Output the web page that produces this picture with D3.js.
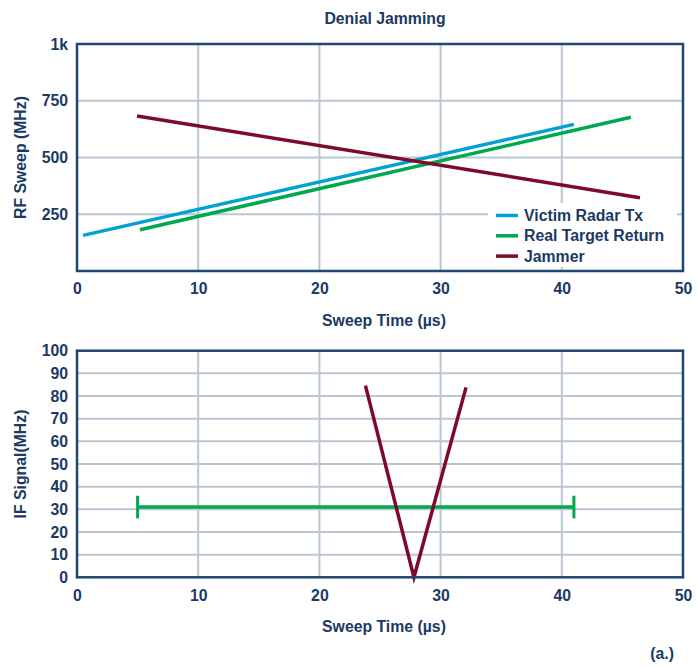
<!DOCTYPE html>
<html>
<head>
<meta charset="utf-8">
<script src="https://cdn.jsdelivr.net/npm/d3@7"></script>
<style>
  html, body { margin: 0; padding: 0; background: #ffffff; }
  svg { display: block; font-family: "Liberation Sans", Arial, sans-serif; }
</style>
</head>
<body>
<svg id="chart"></svg>
<script>
// top panel: RF sweep vs time
const timeTicks = [0, 10, 20, 30, 40, 50];
const rfTicks = [250, 500, 750, 1000];
const rfTickLabels = ["250", "500", "750", "1k"];

const victimTime = [0.5, 41];
const victimFreq = [157, 646];
const targetTime = [5.2, 45.7];
const targetFreq = [182, 677];
const jammerTime = [4.95, 46.45];
const jammerFreq = [683, 323];

const legendNames = ["Victim Radar Tx", "Real Target Return", "Jammer"];

// bottom panel: IF signal vs time
const ifTicks = [0, 10, 20, 30, 40, 50, 60, 70, 80, 90, 100];
const bandTime = [5, 41];
const bandValue = [31, 31];
const bandCapRange = [26, 36];
const jammerIfTime = [23.8, 27.8, 32.1];
const jammerIfValue = [84.6, 0, 83.8];

const colors = {
  text: "#1a3a64",
  frame: "#1f476f",
  grid: "#bac6d3",
  victim: "#00a2d4",
  target: "#00a84f",
  jammer: "#7d0a2c",
};

const width = 697;
const height = 667;
const fontSize = "15.8px";

const svg = d3.select("#chart").attr("width", width).attr("height", height);

const x = d3.scaleLinear().domain([0, 50]).range([77, 683]);
const yTop = d3.scaleLinear().domain([0, 1000]).range([271, 44]);
const yBot = d3.scaleLinear().domain([0, 100]).range([577.3, 350.7]);

function pairs(xs, ys) {
  return xs.map(function (v, i) {
    return [v, ys[i]];
  });
}

function drawPanel(yScale, yTicks, yLabels, gridY) {
  const [y0, y1] = yScale.range();

  // grid
  svg.append("g")
    .selectAll("line")
    .data(timeTicks.slice(1, -1))
    .enter()
    .append("line")
    .attr("x1", function (d) { return x(d); })
    .attr("x2", function (d) { return x(d); })
    .attr("y1", y1)
    .attr("y2", y0)
    .attr("stroke", colors.grid)
    .attr("stroke-width", 2);

  svg.append("g")
    .selectAll("line")
    .data(gridY)
    .enter()
    .append("line")
    .attr("x1", x(0))
    .attr("x2", x(50))
    .attr("y1", function (d) { return yScale(d); })
    .attr("y2", function (d) { return yScale(d); })
    .attr("stroke", colors.grid)
    .attr("stroke-width", 2);

  // axes (labels only)
  const xAxis = svg.append("g")
    .attr("transform", "translate(0," + y0 + ")")
    .call(d3.axisBottom(x).tickValues(timeTicks).tickSize(0).tickPadding(12).tickFormat(d3.format("d")));
  const yAxis = svg.append("g")
    .attr("transform", "translate(" + x(0) + ",0)")
    .call(d3.axisLeft(yScale).tickValues(yTicks).tickSize(0).tickPadding(9)
      .tickFormat(function (d, i) { return yLabels[i]; }));

  [xAxis, yAxis].forEach(function (axis) {
    axis.select(".domain").remove();
    axis.selectAll("text")
      .style("fill", colors.text)
      .style("font-size", fontSize)
      .style("font-weight", "bold")
      .style("font-family", "'Liberation Sans', Arial, sans-serif");
  });
}

function drawFrame(yScale) {
  const [y0, y1] = yScale.range();
  svg.append("rect")
    .attr("x", x(0))
    .attr("y", y1)
    .attr("width", x(50) - x(0))
    .attr("height", y0 - y1)
    .attr("fill", "none")
    .attr("stroke", colors.frame)
    .attr("stroke-width", 2.5);
}

function addText(tx, ty, str, anchor, rotate) {
  const t = svg.append("text")
    .attr("x", tx)
    .attr("y", ty)
    .attr("dy", "0.35em")
    .attr("text-anchor", anchor || "middle")
    .style("fill", colors.text)
    .style("font-size", fontSize)
    .style("font-weight", "bold")
    .text(str);
  if (rotate) {
    t.attr("transform", "rotate(-90," + tx + "," + ty + ")");
  }
  return t;
}

// ---------- top panel ----------
drawPanel(yTop, rfTicks, rfTickLabels, [250, 500, 750]);

// legend box hides the grid behind it
svg.append("rect")
  .attr("x", 488)
  .attr("y", 203)
  .attr("width", 189)
  .attr("height", 64)
  .attr("fill", "#ffffff");

const topLine = d3.line()
  .x(function (d) { return x(d[0]); })
  .y(function (d) { return yTop(d[1]); });

const topSeries = [
  { name: legendNames[0], color: colors.victim, pts: pairs(victimTime, victimFreq) },
  { name: legendNames[1], color: colors.target, pts: pairs(targetTime, targetFreq) },
  { name: legendNames[2], color: colors.jammer, pts: pairs(jammerTime, jammerFreq) },
];

topSeries.forEach(function (s) {
  svg.append("path")
    .attr("d", topLine(s.pts))
    .attr("fill", "none")
    .attr("stroke", s.color)
    .attr("stroke-width", 3.5);
});

drawFrame(yTop);

const legend = svg.append("g");
topSeries.forEach(function (s, i) {
  const ly = 215.5 + i * 20.3;
  legend.append("line")
    .attr("x1", 496)
    .attr("x2", 518)
    .attr("y1", ly)
    .attr("y2", ly)
    .attr("stroke", s.color)
    .attr("stroke-width", 3.5);
  addText(524, ly, s.name, "start");
});

addText(385, 18, "Denial Jamming");
addText(384, 320, "Sweep Time (\u00b5s)");
addText(20, 157.5, "RF Sweep (MHz)", "middle", true);

// ---------- bottom panel ----------
drawPanel(yBot, ifTicks, ifTicks.map(String), ifTicks.slice(1, -1));

const botLine = d3.line()
  .x(function (d) { return x(d[0]); })
  .y(function (d) { return yBot(d[1]); });

svg.append("path")
  .attr("d", botLine(pairs(bandTime, bandValue)))
  .attr("fill", "none")
  .attr("stroke", colors.target)
  .attr("stroke-width", 3.5);

svg.append("g")
  .selectAll("line")
  .data(bandTime)
  .enter()
  .append("line")
  .attr("x1", function (d) { return x(d); })
  .attr("x2", function (d) { return x(d); })
  .attr("y1", yBot(bandCapRange[0]))
  .attr("y2", yBot(bandCapRange[1]))
  .attr("stroke", colors.target)
  .attr("stroke-width", 3);

svg.append("path")
  .attr("d", botLine(pairs(jammerIfTime, jammerIfValue)))
  .attr("fill", "none")
  .attr("stroke", colors.jammer)
  .attr("stroke-width", 3.5)
  .attr("stroke-linejoin", "miter");

drawFrame(yBot);

addText(384, 626, "Sweep Time (\u00b5s)");
addText(20, 464, "IF Signal(MHz)", "middle", true);
addText(674, 653, "(a.)", "end");
</script>
</body>
</html>
